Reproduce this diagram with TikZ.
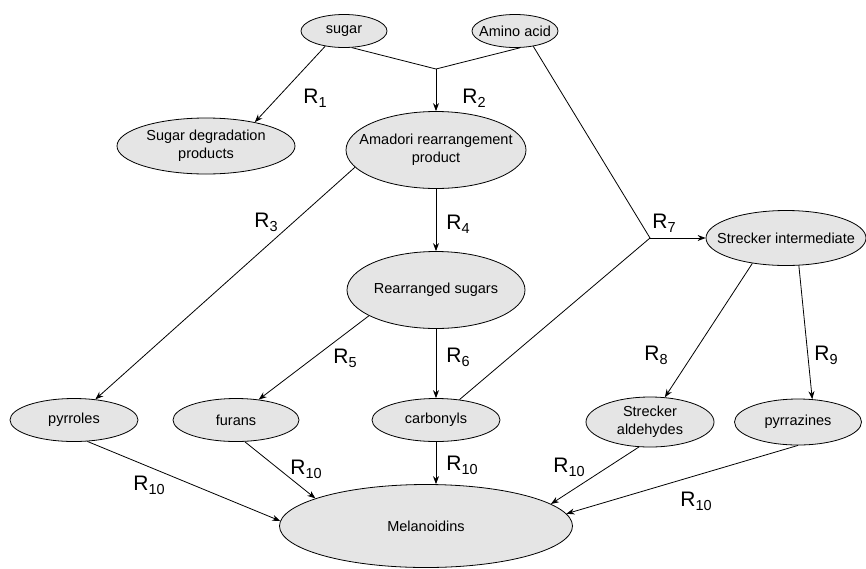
\documentclass[tikz,border=0pt]{standalone}
\usepackage{fontspec}
\setmainfont{Liberation Sans}
\usepackage[dvipsnames]{xcolor}
\usetikzlibrary{shapes.geometric,arrows.meta}
\definecolor{nodegray}{RGB}{229,229,229}
\newcommand{\rsub}[1]{R\raisebox{-4pt}{\fontsize{14.5}{15}\selectfont #1}}

\begin{document}
\begin{tikzpicture}[x=1pt,y=-1pt,>={Stealth[length=8pt,width=6pt]},line width=0.8pt,main node/.style={ellipse,draw,fill=nodegray,inner sep=0pt},every label/.style={font=\fontsize{14.5}{18}\selectfont,align=center,inner sep=0pt},rate/.style={font=\fontsize{21}{24}\selectfont,inner sep=0pt}]
            \useasboundingbox (0,0) rectangle (866,568);

            \node[main node,minimum width=86pt,minimum height=33pt,label=center:sugar] (sugar) at (344,31) {};
            \node[main node,minimum width=86pt,minimum height=33pt,label=center:Amino acid] (amino) at (515,31) {};
            \node[main node,minimum width=178pt,minimum height=56pt,label=center:{Sugar degradation\\products}] (sdp) at (206,146) {};
            \node[main node,minimum width=180pt,minimum height=77pt,label=center:{Amadori rearrangement\\product}] (amadori) at (436,150) {};
            \node[main node,minimum width=160pt,minimum height=55pt,label=center:Strecker intermediate] (sint) at (786,238) {};
            \node[main node,minimum width=178pt,minimum height=77pt,label=center:Rearranged sugars] (rsug) at (436,290) {};
            \node[main node,minimum width=128pt,minimum height=43pt,label=center:pyrroles] (pyrroles) at (74,420) {};
            \node[main node,minimum width=126pt,minimum height=43pt,label=center:furans] (furans) at (236,420) {};
            \node[main node,minimum width=128pt,minimum height=43pt,label=center:carbonyls] (carbonyls) at (436,420) {};
            \node[main node,minimum width=128pt,minimum height=50pt,label=center:{Strecker\\aldehydes}] (sald) at (650,422) {};
            \node[main node,minimum width=127pt,minimum height=46pt,label=center:pyrrazines] (pyrrazines) at (798,422) {};
            \node[main node,minimum width=293pt,minimum height=83pt,label=center:Melanoidins] (mel) at (426,526) {};

            \coordinate (j1) at (436,69);
            \coordinate (j2) at (650,238);

            \path[->]
                    (sugar.219) edge (sdp.26)
                    (sugar.295) edge[-] (j1)
                    (amino.287) edge[-] (j1)
                    (j1) edge (amadori)
                    (amino.320) edge[-] (j2)
                    (carbonyls.41) edge[-] (j2)
                    (j2) edge (sint)
                    (amadori.192) edge (pyrroles.44)
                    (amadori) edge (rsug)
                    (rsug.201) edge (furans.42)
                    (rsug) edge (carbonyls)
                    (sint.217) edge (sald.59)
                    (sint.295) edge (pyrrazines.58)
                    (pyrroles.302) edge (mel.178)
                    (furans.292) edge (mel.166)
                    (carbonyls.south) edge (carbonyls.south |- mel.north)
                    (sald.246) edge (mel.10)
                    (pyrrazines.270) edge (mel.5)
                ;

            \node[rate] (r1) at (315,98) {\rsub{1}};
            \node[rate] (r2) at (474,98) {\rsub{2}};
            \node[rate] (r3) at (266,222) {\rsub{3}};
            \node[rate] (r4) at (458,224) {\rsub{4}};
            \node[rate] (r5) at (345,358) {\rsub{5}};
            \node[rate] (r6) at (458,357) {\rsub{6}};
            \node[rate] (r7) at (664,223) {\rsub{7}};
            \node[rate] (r8) at (656,355) {\rsub{8}};
            \node[rate] (r9) at (826,355) {\rsub{9}};
            \node[rate] (r10a) at (149,485) {\rsub{10}};
            \node[rate] (r10b) at (306,469) {\rsub{10}};
            \node[rate] (r10c) at (462,465) {\rsub{10}};
            \node[rate] (r10d) at (569,467) {\rsub{10}};
            \node[rate] (r10e) at (696,501) {\rsub{10}};
        \end{tikzpicture}
\end{document}
